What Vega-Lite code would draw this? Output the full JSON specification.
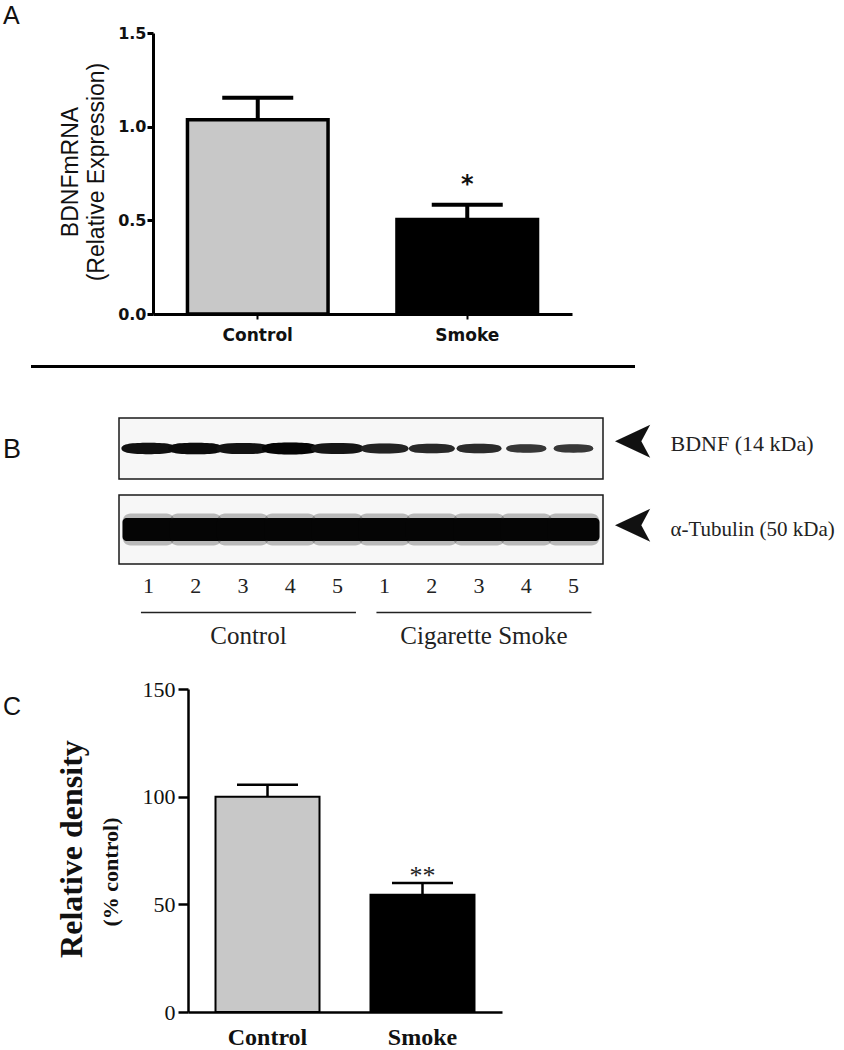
{
  "$schema": "https://vega.github.io/schema/vega-lite/v6.json",
  "background": "white",
  "padding": {"left": 3, "top": 3, "right": 0, "bottom": 0},
  "spacing": 0,
  "config": {
    "view": {"stroke": null},
    "axis": {"grid": false, "domainColor": "#000", "tickColor": "#000", "labelColor": "#111", "titleColor": "#111"},
    "title": {"color": "#111"}
  },
  "datasets": {
    "mrna": [
      {"group": "Control", "mean": 1.037, "upper": 1.154, "sig": ""},
      {"group": "Smoke", "mean": 0.504, "upper": 0.583, "sig": "*"}
    ],
    "density": [
      {"group": "Control", "mean": 100.0, "upper": 105.5, "sig": ""},
      {"group": "Smoke", "mean": 54.4, "upper": 59.9, "sig": "**"}
    ],
    "bdnf": [
      {"lane": 1, "cohort": "Control", "protein": "BDNF (14 kDa)", "density": 98},
      {"lane": 2, "cohort": "Control", "protein": "BDNF (14 kDa)", "density": 104},
      {"lane": 3, "cohort": "Control", "protein": "BDNF (14 kDa)", "density": 95},
      {"lane": 4, "cohort": "Control", "protein": "BDNF (14 kDa)", "density": 110},
      {"lane": 5, "cohort": "Control", "protein": "BDNF (14 kDa)", "density": 93},
      {"lane": 6, "cohort": "Cigarette Smoke", "protein": "BDNF (14 kDa)", "density": 70},
      {"lane": 7, "cohort": "Cigarette Smoke", "protein": "BDNF (14 kDa)", "density": 62},
      {"lane": 8, "cohort": "Cigarette Smoke", "protein": "BDNF (14 kDa)", "density": 58},
      {"lane": 9, "cohort": "Cigarette Smoke", "protein": "BDNF (14 kDa)", "density": 40},
      {"lane": 10, "cohort": "Cigarette Smoke", "protein": "BDNF (14 kDa)", "density": 38}
    ],
    "tubulin": [
      {"lane": 1, "cohort": "Control", "protein": "α-Tubulin (50 kDa)"},
      {"lane": 2, "cohort": "Control", "protein": "α-Tubulin (50 kDa)"},
      {"lane": 3, "cohort": "Control", "protein": "α-Tubulin (50 kDa)"},
      {"lane": 4, "cohort": "Control", "protein": "α-Tubulin (50 kDa)"},
      {"lane": 5, "cohort": "Control", "protein": "α-Tubulin (50 kDa)"},
      {"lane": 6, "cohort": "Cigarette Smoke", "protein": "α-Tubulin (50 kDa)"},
      {"lane": 7, "cohort": "Cigarette Smoke", "protein": "α-Tubulin (50 kDa)"},
      {"lane": 8, "cohort": "Cigarette Smoke", "protein": "α-Tubulin (50 kDa)"},
      {"lane": 9, "cohort": "Cigarette Smoke", "protein": "α-Tubulin (50 kDa)"},
      {"lane": 10, "cohort": "Cigarette Smoke", "protein": "α-Tubulin (50 kDa)"}
    ],
    "cohorts": [
      {"cohort": "Control"},
      {"cohort": "Cigarette Smoke"}
    ]
  },
  "vconcat": [
    {
      "bounds": "flush",
      "spacing": 0,
      "hconcat": [
        {
          "width": 150, "height": 331.5,
          "data": {"values": []},
          "mark": "point",
          "encoding": {},
          "title": {"text": "A", "anchor": "start", "frame": "group", "orient": "top", "offset": -15.5, "baseline": "alphabetic", "font": "Liberation Sans", "fontSize": 25, "fontWeight": "normal", "color": "#111"}
        },
        {
          "width": 419, "height": 281,
          "data": {"name": "mrna"},
          "encoding": {
            "x": {
              "field": "group", "type": "nominal",
              "scale": {"type": "band", "domain": ["Control", "Smoke"], "paddingInner": 0.329, "paddingOuter": 0.1645},
              "axis": {"title": null, "labelAngle": 0, "domainWidth": 3, "tickWidth": 2, "tickSize": 5, "labelFont": "DejaVu Sans", "labelFontWeight": "bold", "labelFontSize": 17, "labelPadding": 8}
            }
          },
          "resolve": {"axis": {"y": "independent"}},
          "layer": [
            {
              "mark": {"type": "bar", "stroke": "#000", "strokeWidth": 3.5},
              "encoding": {
                "y": {
                  "field": "mean", "type": "quantitative",
                  "scale": {"domain": [0, 1.5], "nice": false},
                  "axis": {"orient": "left", "values": [0, 0.5, 1, 1.5], "format": ".1f", "domainWidth": 3, "tickWidth": 3, "tickSize": 6, "labelFont": "DejaVu Sans", "labelFontWeight": "bold", "labelFontSize": 16, "labelPadding": 1, "title": ["BDNFmRNA", "(Relative Expression)"], "titleFont": "Liberation Sans", "titleFontSize": 23, "titleFontWeight": "normal", "titleAngle": -90, "titleAlign": "center", "titleBaseline": "alphabetic", "titleLineHeight": 26, "titleX": -76, "titleY": 138.5}
                },
                "fill": {"field": "group", "type": "nominal", "scale": {"domain": ["Control", "Smoke"], "range": ["#c8c8c8", "#000000"]}, "legend": null}
              }
            },
            {
              "mark": {"type": "rule", "strokeWidth": 4, "color": "#000", "opacity": 1},
              "encoding": {"y": {"field": "mean", "type": "quantitative", "axis": null}, "y2": {"field": "upper"}}
            },
            {
              "mark": {"type": "tick", "orient": "horizontal", "size": 71, "thickness": 4, "color": "#000", "opacity": 1},
              "encoding": {"y": {"field": "upper", "type": "quantitative", "axis": null}}
            },
            {
              "mark": {"type": "text", "font": "DejaVu Sans", "fontWeight": "bold", "fontSize": 24, "dy": -20, "color": "#111"},
              "encoding": {"y": {"field": "upper", "type": "quantitative", "axis": null}, "text": {"field": "sig"}}
            }
          ]
        }
      ]
    },
    {
      "bounds": "flush",
      "spacing": 0,
      "hconcat": [
        {
          "width": 29, "height": 46.75,
          "data": {"values": []},
          "mark": "point",
          "encoding": {}
        },
        {
          "width": 602, "height": 1,
          "view": {"stroke": "#000", "strokeWidth": 2},
          "data": {"values": []},
          "mark": "point",
          "encoding": {}
        }
      ]
    },
    {
      "bounds": "flush",
      "spacing": 0,
      "hconcat": [
        {
          "width": 116, "height": 259.5,
          "data": {"values": []},
          "mark": "point",
          "encoding": {},
          "title": {"text": "B", "anchor": "start", "frame": "group", "orient": "top", "offset": -66.5, "baseline": "alphabetic", "font": "Liberation Sans", "fontSize": 27, "fontWeight": "normal", "color": "#111"}
        },
        {
          "spacing": 14,
          "vconcat": [
            {
              "width": 484, "height": 61,
              "view": {"stroke": "#1a1a1a", "strokeWidth": 1.5, "fill": "#f7f7f7"},
              "data": {"name": "bdnf"},
              "encoding": {
                "x": {"field": "lane", "type": "ordinal", "scale": {"type": "band", "paddingInner": 0, "paddingOuter": 0.125}, "axis": null},
                "y": {
                  "field": "protein", "type": "nominal",
                  "axis": {"orient": "right", "ticks": false, "tickSize": 0, "domain": false, "labelFont": "Liberation Serif", "labelFontSize": 22, "labelColor": "#222", "labelPadding": 67, "labelLimit": 300, "labelOffset": -5, "labelAlign": "left", "title": "➤", "titleFont": "DejaVu Sans", "titleFontSize": 52, "titleFontWeight": "normal", "titleColor": "#111", "titleAngle": 180, "titleAlign": "right", "titleBaseline": "middle", "titleX": 9, "titleY": 22.5}
                }
              },
              "layer": [
                {
                  "mark": {"type": "point", "shape": "M -1 0 C -1 -0.17 -0.6 -0.21 0 -0.21 C 0.6 -0.21 1 -0.17 1 0 C 1 0.17 0.6 0.21 0 0.21 C -0.6 0.21 -1 0.17 -1 0 Z", "filled": true, "opacity": 0.22, "strokeWidth": 0, "color": "#000"},
                  "encoding": {"size": {"field": "density", "type": "quantitative", "scale": {"domain": [35, 110], "range": [1500, 3200]}, "legend": null}}
                },
                {
                  "mark": {"type": "point", "shape": "M -1 0 C -1 -0.17 -0.6 -0.21 0 -0.21 C 0.6 -0.21 1 -0.17 1 0 C 1 0.17 0.6 0.21 0 0.21 C -0.6 0.21 -1 0.17 -1 0 Z", "filled": true, "opacity": 1, "strokeWidth": 0},
                  "encoding": {
                    "size": {"field": "density", "type": "quantitative", "scale": {"domain": [35, 110], "range": [900, 2000]}, "legend": null},
                    "color": {"field": "density", "type": "quantitative", "scale": {"domain": [35, 110], "range": ["#3a3a3a", "#050505"]}, "legend": null}
                  }
                }
              ]
            },
            {
              "width": 484, "height": 69,
              "view": {"stroke": "#1a1a1a", "strokeWidth": 1.5, "fill": "#f7f7f7"},
              "data": {"name": "tubulin"},
              "encoding": {
                "x": {
                  "field": "lane", "type": "ordinal",
                  "scale": {"type": "band", "paddingInner": 0, "paddingOuter": 0.125},
                  "axis": {"orient": "bottom", "labelExpr": "datum.value > 5 ? datum.value - 5 : datum.value", "ticks": false, "tickSize": 0, "domain": false, "labelFont": "Liberation Serif", "labelFontSize": 22, "labelColor": "#222", "labelBaseline": "middle", "labelPadding": 21, "labelAngle": 0, "title": null}
                },
                "y": {
                  "field": "protein", "type": "nominal",
                  "axis": {"orient": "right", "ticks": false, "tickSize": 0, "domain": false, "labelFont": "Liberation Serif", "labelFontSize": 21, "labelColor": "#222", "labelPadding": 67, "labelLimit": 300, "labelOffset": 0, "labelAlign": "left", "title": "➤", "titleFont": "DejaVu Sans", "titleFontSize": 52, "titleFontWeight": "normal", "titleColor": "#111", "titleAngle": 180, "titleAlign": "right", "titleBaseline": "middle", "titleX": 9, "titleY": 29}
                }
              },
              "layer": [
                {
                  "mark": {"type": "tick", "orient": "horizontal", "size": 52, "thickness": 32, "color": "#000", "opacity": 0.25, "cornerRadius": 8},
                  "encoding": {}
                },
                {
                  "mark": {"type": "tick", "orient": "horizontal", "size": 52, "thickness": 23, "color": "#050505", "opacity": 1, "cornerRadius": 4},
                  "encoding": {}
                }
              ]
            },
            {
              "width": 484, "height": 1,
              "data": {"name": "cohorts"},
              "mark": {"type": "tick", "orient": "horizontal", "size": 215, "thickness": 1.5, "color": "#222", "opacity": 1},
              "encoding": {
                "x": {
                  "field": "cohort", "type": "nominal", "sort": null,
                  "scale": {"type": "band", "domain": ["Control", "Cigarette Smoke"], "paddingInner": 0, "paddingOuter": 0.0276, "align": 0.9},
                  "axis": {"orient": "bottom", "ticks": false, "tickSize": 0, "domain": false, "labelFont": "Liberation Serif", "labelFontSize": 25, "labelColor": "#222", "labelBaseline": "alphabetic", "labelPadding": 30.7, "labelAngle": 0, "title": null}
                }
              }
            }
          ]
        }
      ]
    },
    {
      "bounds": "flush",
      "spacing": 0,
      "hconcat": [
        {
          "width": 185, "height": 323,
          "data": {"values": []},
          "mark": "point",
          "encoding": {},
          "title": {"text": "C", "anchor": "start", "frame": "group", "orient": "top", "offset": -51, "baseline": "alphabetic", "font": "Liberation Sans", "fontSize": 25, "fontWeight": "normal", "color": "#111"}
        },
        {
          "width": 314, "height": 323,
          "data": {"name": "density"},
          "encoding": {
            "x": {
              "field": "group", "type": "nominal",
              "scale": {"type": "band", "domain": ["Control", "Smoke"], "paddingInner": 0.329, "paddingOuter": 0.1775},
              "axis": {"title": null, "labelAngle": 0, "domainWidth": 2.5, "ticks": false, "tickSize": 0, "labelFont": "Liberation Serif", "labelFontWeight": "bold", "labelFontSize": 24, "labelPadding": 13}
            }
          },
          "resolve": {"axis": {"y": "independent"}},
          "layer": [
            {
              "mark": {"type": "bar", "stroke": "#000", "strokeWidth": 2},
              "encoding": {
                "y": {
                  "field": "mean", "type": "quantitative",
                  "scale": {"domain": [0, 150], "nice": false},
                  "axis": {"orient": "left", "values": [0, 50, 100, 150], "domainWidth": 2.5, "tickWidth": 2.5, "tickSize": 10, "labelFont": "Liberation Serif", "labelFontSize": 22, "labelPadding": 3, "title": "Relative density", "titleFont": "Liberation Serif", "titleFontSize": 32, "titleFontWeight": "bold", "titleAngle": -90, "titleAlign": "center", "titleBaseline": "alphabetic", "titleX": -106.6, "titleY": 159.5}
                },
                "fill": {"field": "group", "type": "nominal", "scale": {"domain": ["Control", "Smoke"], "range": ["#c8c8c8", "#000000"]}, "legend": null}
              }
            },
            {
              "mark": {"type": "rule", "strokeWidth": 2.5, "color": "#000", "opacity": 1},
              "encoding": {
                "y": {
                  "field": "mean", "type": "quantitative",
                  "axis": {"orient": "left", "labels": false, "ticks": false, "domain": false, "title": "(% control)", "titleFont": "Liberation Serif", "titleFontSize": 22, "titleFontWeight": "bold", "titleAngle": -90, "titleAlign": "center", "titleBaseline": "alphabetic", "titleX": -70.6, "titleY": 182.5}
                },
                "y2": {"field": "upper"}
              }
            },
            {
              "mark": {"type": "tick", "orient": "horizontal", "size": 61, "thickness": 2.5, "color": "#000", "opacity": 1},
              "encoding": {"y": {"field": "upper", "type": "quantitative", "axis": null}}
            },
            {
              "mark": {"type": "text", "font": "Liberation Serif", "fontSize": 26, "dy": -7, "color": "#222"},
              "encoding": {"y": {"field": "upper", "type": "quantitative", "axis": null}, "text": {"field": "sig"}}
            }
          ]
        }
      ]
    }
  ]
}
